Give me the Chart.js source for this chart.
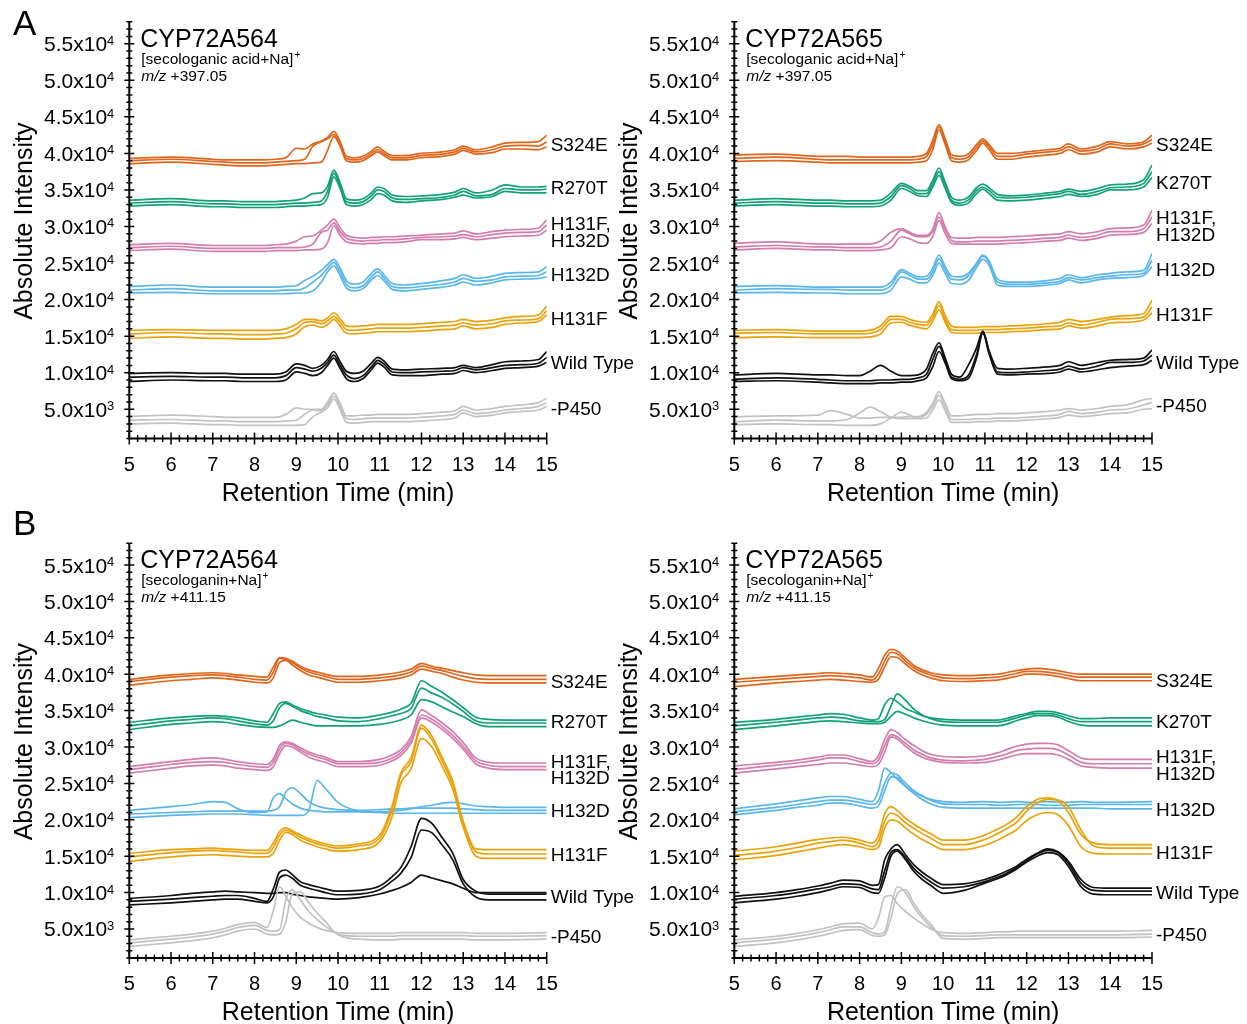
<!DOCTYPE html>
<html lang="en">
<head>
<meta charset="UTF-8">
<title>CYP72A564 / CYP72A565 chromatograms</title>
<script src="https://cdn.jsdelivr.net/npm/chart.js"></script>
<style>
  body { margin: 0; background: #fff; width: 1247px; height: 1024px; overflow: hidden; position: relative; }
  canvas { position: absolute; }
</style>
</head>
<body>
<canvas id="cA1" width="645" height="512" style="left:0;top:0"></canvas>
<canvas id="cA2" width="642" height="512" style="left:605px;top:0"></canvas>
<canvas id="cB1" width="645" height="524" style="left:0;top:500px"></canvas>
<canvas id="cB2" width="642" height="524" style="left:605px;top:500px"></canvas>
<script>
// retention time grids (min)
const timeA = [5, 6, 7, 7.3, 7.7, 8, 8.25, 8.5, 8.75, 9.0, 9.2, 9.4, 9.6, 9.75, 9.9, 10.05, 10.2, 10.4, 10.6, 10.8, 10.95, 11.1, 11.3, 11.6, 12, 12.5, 12.8, 13.0, 13.3, 13.7, 14.0, 14.4, 14.8, 15];
const timeB = [5, 6, 6.5, 7, 7.3, 7.6, 8, 8.3, 8.45, 8.6, 8.75, 8.9, 9.1, 9.3, 9.5, 9.7, 10, 10.5, 11, 11.3, 11.5, 11.75, 12, 12.25, 12.5, 12.75, 13, 13.3, 13.6, 14, 15];

// intensities in units of 10^3, three replicates per construct
// A, CYP72A564, secologanic acid
const a564_S324E = [
  [39.3, 39.5, 39.2, 39.1, 39.1, 39.1, 39.1, 39.2, 39.4, 40.7, 40.6, 41.3, 41.7, 42.2, 43.0, 41.6, 39.6, 39.4, 39.6, 40.3, 40.9, 40.3, 39.7, 39.7, 40.0, 40.2, 40.5, 41.0, 40.5, 40.9, 41.4, 41.5, 41.6, 42.5],
  [39.0, 39.2, 38.9, 38.8, 38.7, 38.7, 38.7, 38.8, 38.9, 39.0, 39.2, 41.0, 41.6, 42.0, 42.6, 41.2, 39.3, 39.1, 39.3, 40.0, 40.5, 40.0, 39.4, 39.4, 39.7, 39.9, 40.2, 40.7, 40.2, 40.5, 41.0, 41.1, 41.0, 41.6],
  [38.6, 38.8, 38.5, 38.4, 38.3, 38.3, 38.3, 38.4, 38.5, 38.6, 38.6, 38.7, 38.8, 40.4, 42.3, 41.0, 39.0, 38.8, 39.0, 39.7, 40.2, 39.7, 39.1, 39.1, 39.4, 39.6, 39.9, 40.4, 39.9, 40.1, 40.6, 40.6, 40.5, 40.9]];
const a564_R270T = [
  [33.6, 33.8, 33.5, 33.5, 33.4, 33.4, 33.4, 33.4, 33.5, 33.6, 33.9, 34.5, 34.6, 35.5, 37.7, 36.0, 33.8, 33.6, 33.8, 34.6, 35.4, 35.2, 34.3, 34.1, 34.2, 34.4, 34.7, 35.2, 34.6, 35.0, 35.7, 35.4, 35.4, 35.5],
  [33.2, 33.4, 33.1, 33.1, 33.0, 33.0, 33.0, 33.0, 33.1, 33.2, 33.2, 33.3, 33.5, 34.8, 37.3, 35.6, 33.4, 33.2, 33.4, 34.2, 35.0, 34.8, 33.9, 33.7, 33.8, 34.0, 34.3, 34.8, 34.2, 34.4, 35.2, 35.0, 35.0, 35.1],
  [32.8, 33.0, 32.7, 32.7, 32.6, 32.6, 32.6, 32.6, 32.7, 32.8, 32.8, 32.9, 33.0, 34.0, 36.8, 35.2, 33.0, 32.8, 33.0, 33.7, 34.5, 34.3, 33.5, 33.3, 33.5, 33.7, 34.0, 34.3, 33.9, 34.1, 34.8, 34.6, 34.6, 34.6]];
const a564_H131F_H132D = [
  [27.5, 27.7, 27.4, 27.4, 27.4, 27.4, 27.4, 27.5, 27.6, 28.0, 28.6, 28.7, 29.5, 30.2, 31.0, 29.8, 28.8, 28.5, 28.4, 28.5, 28.5, 28.6, 28.6, 28.7, 28.8, 29.0, 29.1, 29.4, 29.0, 29.3, 29.5, 29.6, 29.8, 30.9],
  [27.1, 27.3, 27.0, 27.0, 27.0, 27.0, 27.0, 27.1, 27.1, 27.1, 27.2, 27.6, 29.2, 29.5, 30.5, 29.3, 28.4, 28.1, 28.0, 28.1, 28.1, 28.2, 28.2, 28.3, 28.5, 28.6, 28.7, 28.9, 28.6, 28.9, 29.1, 29.2, 29.3, 30.2],
  [26.7, 26.9, 26.6, 26.6, 26.6, 26.6, 26.6, 26.7, 26.7, 26.7, 26.8, 26.8, 26.9, 27.8, 30.1, 28.8, 27.9, 27.7, 27.6, 27.7, 27.7, 27.8, 27.8, 27.9, 28.2, 28.2, 28.3, 28.5, 28.2, 28.4, 28.6, 28.7, 28.8, 29.5]];
const a564_H132D = [
  [21.8, 22.0, 21.7, 21.7, 21.7, 21.7, 21.7, 21.7, 21.8, 21.9, 22.6, 23.2, 24.0, 24.8, 25.5, 24.3, 22.6, 22.1, 22.4, 23.6, 24.2, 23.4, 22.2, 22.0, 22.2, 22.6, 22.9, 23.4, 22.9, 23.2, 23.6, 23.7, 23.8, 24.5],
  [21.3, 21.5, 21.2, 21.2, 21.2, 21.2, 21.2, 21.2, 21.3, 21.3, 21.6, 22.4, 23.3, 24.3, 25.1, 23.8, 22.1, 21.6, 21.9, 23.1, 23.8, 23.0, 21.8, 21.6, 21.8, 22.1, 22.4, 22.9, 22.5, 22.7, 23.1, 23.2, 23.3, 23.8],
  [20.9, 21.0, 20.8, 20.8, 20.8, 20.8, 20.8, 20.8, 20.8, 20.9, 20.9, 21.2, 22.4, 23.8, 24.6, 23.3, 21.6, 21.2, 21.5, 22.7, 23.3, 22.6, 21.4, 21.2, 21.4, 21.7, 22.0, 22.4, 22.0, 22.3, 22.7, 22.8, 22.9, 23.1]];
const a564_H131F = [
  [15.8, 15.9, 15.8, 15.8, 15.8, 15.8, 15.8, 15.8, 16.0, 16.6, 17.3, 17.3, 17.1, 17.5, 18.2, 17.4, 16.4, 16.3, 16.4, 16.5, 16.6, 16.6, 16.6, 16.6, 16.7, 16.9, 17.0, 17.3, 17.0, 17.2, 17.5, 17.7, 17.9, 19.1],
  [15.3, 15.5, 15.3, 15.3, 15.2, 15.2, 15.2, 15.3, 15.4, 16.0, 16.9, 17.0, 16.7, 17.1, 17.7, 16.9, 15.9, 15.8, 15.9, 16.0, 16.1, 16.1, 16.1, 16.1, 16.2, 16.4, 16.5, 16.8, 16.5, 16.7, 17.1, 17.2, 17.4, 18.5],
  [14.7, 14.9, 14.7, 14.7, 14.6, 14.6, 14.6, 14.7, 14.8, 15.3, 16.3, 16.5, 16.2, 16.6, 17.3, 16.4, 15.4, 15.3, 15.4, 15.5, 15.6, 15.6, 15.6, 15.6, 15.7, 15.9, 16.0, 16.4, 16.0, 16.2, 16.6, 16.8, 17.0, 17.9]];
const a564_WT = [
  [9.9, 10.0, 9.9, 9.9, 9.8, 9.8, 9.8, 9.8, 10.1, 11.2, 11.0, 10.6, 11.0, 11.8, 12.9, 11.5, 10.2, 9.9, 10.2, 11.3, 12.1, 11.6, 10.5, 10.4, 10.5, 10.6, 10.7, 11.0, 10.7, 11.1, 11.5, 11.6, 11.8, 12.9],
  [9.4, 9.5, 9.4, 9.4, 9.3, 9.3, 9.3, 9.3, 9.6, 10.7, 10.5, 10.2, 10.6, 11.4, 12.4, 11.0, 9.7, 9.2, 9.6, 10.8, 11.7, 11.2, 10.1, 10.0, 10.1, 10.2, 10.3, 10.7, 10.4, 10.7, 11.0, 11.1, 11.3, 12.1],
  [8.8, 9.0, 8.9, 8.9, 8.8, 8.8, 8.8, 8.8, 9.0, 10.1, 9.9, 9.6, 10.0, 11.0, 12.0, 10.6, 9.2, 8.8, 9.2, 10.4, 11.3, 10.8, 9.7, 9.6, 9.6, 9.8, 9.9, 10.3, 10.0, 10.3, 10.6, 10.7, 10.9, 11.4]];
const a564_noP450 = [
  [4.0, 4.2, 4.0, 3.9, 3.9, 3.9, 3.9, 3.9, 4.3, 5.2, 5.0, 5.0, 5.0, 6.0, 7.2, 5.8, 4.1, 4.1, 4.2, 4.2, 4.3, 4.3, 4.3, 4.3, 4.4, 4.6, 4.8, 5.4, 4.9, 5.1, 5.4, 5.6, 5.9, 6.5],
  [3.5, 3.6, 3.4, 3.4, 3.3, 3.3, 3.3, 3.3, 3.4, 3.5, 4.3, 4.9, 4.8, 5.6, 6.8, 5.4, 3.7, 3.6, 3.7, 3.8, 3.8, 3.8, 3.8, 3.8, 3.9, 4.1, 4.3, 4.9, 4.4, 4.6, 4.9, 5.1, 5.4, 5.9],
  [3.0, 3.1, 2.9, 2.9, 2.8, 2.8, 2.8, 2.8, 2.8, 2.8, 2.9, 4.0, 4.6, 5.2, 6.4, 5.0, 3.2, 3.1, 3.2, 3.3, 3.3, 3.3, 3.3, 3.3, 3.4, 3.6, 3.8, 4.5, 4.0, 4.2, 4.5, 4.7, 4.9, 5.4]];

// A, CYP72A565, secologanic acid
const a565_S324E = [
  [39.8, 39.9, 39.6, 39.6, 39.6, 39.5, 39.5, 39.5, 39.5, 39.5, 39.5, 39.6, 40.0, 41.8, 43.9, 42.0, 39.8, 39.6, 39.9, 41.2, 42.0, 41.2, 40.0, 40.0, 40.2, 40.5, 40.7, 41.3, 40.6, 41.0, 41.6, 41.3, 41.6, 42.5],
  [39.3, 39.5, 39.2, 39.1, 39.1, 39.1, 39.1, 39.1, 39.1, 39.1, 39.1, 39.2, 39.6, 41.2, 43.6, 41.6, 39.4, 39.2, 39.5, 40.8, 41.7, 40.9, 39.6, 39.6, 39.9, 40.2, 40.4, 40.9, 40.3, 40.6, 41.3, 41.0, 41.3, 41.9],
  [38.9, 39.0, 38.8, 38.7, 38.7, 38.7, 38.7, 38.7, 38.7, 38.7, 38.7, 38.8, 39.0, 40.5, 43.2, 41.2, 39.0, 38.8, 39.1, 40.4, 41.4, 40.5, 39.2, 39.2, 39.5, 39.8, 40.0, 40.5, 39.9, 40.2, 40.9, 40.6, 40.9, 41.4]];
const a565_K270T = [
  [33.6, 33.8, 33.6, 33.6, 33.5, 33.5, 33.5, 33.6, 34.6, 35.9, 35.5, 34.9, 34.9, 36.3, 38.0, 36.0, 34.0, 33.6, 34.0, 35.3, 35.8, 35.3, 34.4, 34.2, 34.3, 34.6, 34.8, 35.1, 34.8, 35.2, 35.7, 35.8, 36.4, 38.4],
  [33.2, 33.4, 33.2, 33.2, 33.1, 33.1, 33.1, 33.2, 34.1, 35.6, 35.2, 34.5, 34.5, 35.8, 37.5, 35.6, 33.6, 33.2, 33.6, 34.9, 35.4, 34.9, 34.0, 33.9, 34.0, 34.3, 34.5, 34.8, 34.4, 34.8, 35.3, 35.4, 35.9, 37.5],
  [32.8, 33.0, 32.8, 32.8, 32.7, 32.7, 32.7, 32.8, 33.6, 35.2, 34.8, 34.2, 34.1, 35.4, 37.0, 35.2, 33.3, 32.9, 33.2, 34.5, 35.1, 34.5, 33.6, 33.5, 33.6, 33.9, 34.1, 34.4, 34.1, 34.4, 35.0, 35.0, 35.4, 36.7]];
const a565_H131F_H132D = [
  [27.7, 27.9, 27.6, 27.6, 27.6, 27.6, 27.6, 28.0, 29.2, 29.7, 29.2, 28.8, 28.8, 29.6, 31.9, 29.9, 28.5, 28.4, 28.4, 28.5, 28.5, 28.5, 28.5, 28.6, 28.7, 28.9, 29.0, 29.3, 29.0, 29.3, 29.7, 29.8, 30.2, 32.2],
  [27.2, 27.4, 27.2, 27.2, 27.1, 27.1, 27.1, 27.2, 28.0, 29.5, 29.0, 28.6, 28.6, 29.3, 31.3, 29.5, 28.1, 27.9, 27.9, 28.0, 28.0, 28.0, 28.0, 28.1, 28.2, 28.4, 28.5, 28.8, 28.5, 28.8, 29.3, 29.3, 29.7, 31.3],
  [26.8, 27.0, 26.8, 26.8, 26.7, 26.7, 26.7, 26.8, 27.1, 28.6, 28.3, 27.8, 27.7, 28.6, 30.8, 29.0, 27.7, 27.6, 27.6, 27.6, 27.6, 27.6, 27.6, 27.7, 27.8, 28.0, 28.1, 28.4, 28.1, 28.4, 28.8, 28.9, 29.2, 30.4]];
const a565_H132D = [
  [21.8, 21.9, 21.7, 21.7, 21.7, 21.7, 21.7, 21.7, 22.4, 24.1, 23.6, 23.1, 23.2, 24.3, 26.1, 24.5, 23.2, 23.1, 23.6, 25.0, 26.1, 25.3, 22.8, 22.4, 22.4, 22.6, 22.9, 23.4, 23.0, 23.4, 23.6, 23.8, 24.0, 26.3],
  [21.3, 21.5, 21.4, 21.4, 21.3, 21.3, 21.3, 21.3, 21.9, 23.8, 23.3, 22.8, 22.8, 23.8, 25.6, 24.1, 22.8, 22.7, 23.2, 24.8, 25.9, 25.1, 22.4, 22.1, 22.1, 22.3, 22.5, 23.0, 22.7, 23.0, 23.2, 23.4, 23.6, 25.4],
  [20.9, 21.0, 20.9, 20.9, 20.8, 20.8, 20.8, 20.8, 21.3, 23.1, 22.8, 22.3, 22.3, 23.3, 25.0, 23.6, 22.2, 22.1, 22.6, 24.4, 25.5, 24.7, 22.0, 21.8, 21.8, 22.0, 22.2, 22.7, 22.3, 22.7, 22.9, 23.0, 23.3, 24.5]];
const a565_H131F = [
  [15.8, 15.9, 15.7, 15.7, 15.7, 15.7, 15.8, 16.4, 17.7, 17.7, 17.3, 17.0, 16.9, 18.0, 19.7, 17.8, 16.4, 16.2, 16.2, 16.2, 16.3, 16.3, 16.3, 16.4, 16.5, 16.7, 16.9, 17.3, 17.0, 17.3, 17.6, 17.8, 18.1, 19.9],
  [15.4, 15.5, 15.3, 15.3, 15.3, 15.3, 15.4, 15.9, 17.3, 17.3, 16.9, 16.6, 16.5, 17.5, 19.2, 17.3, 15.9, 15.8, 15.8, 15.8, 15.9, 15.9, 15.9, 16.0, 16.1, 16.3, 16.4, 16.8, 16.5, 16.9, 17.3, 17.4, 17.6, 19.0],
  [14.8, 14.9, 14.8, 14.8, 14.8, 14.8, 14.9, 15.3, 16.8, 16.9, 16.5, 16.2, 16.0, 17.0, 18.6, 16.9, 15.5, 15.4, 15.4, 15.4, 15.5, 15.5, 15.5, 15.6, 15.7, 15.9, 16.0, 16.4, 16.1, 16.4, 16.8, 16.9, 17.2, 18.2]];
const a565_WT = [
  [9.7, 9.9, 9.7, 9.7, 9.6, 9.6, 10.2, 11.0, 10.2, 9.6, 9.6, 9.7, 10.5, 12.6, 14.1, 12.0, 9.8, 9.4, 11.0, 13.4, 15.7, 13.0, 10.6, 10.5, 10.6, 10.8, 11.0, 11.5, 11.0, 11.4, 11.7, 11.8, 12.0, 13.1],
  [9.1, 9.3, 9.1, 9.0, 8.9, 8.9, 8.9, 9.0, 9.0, 9.1, 9.1, 9.3, 9.8, 11.8, 13.6, 11.6, 9.4, 9.1, 9.6, 12.5, 15.6, 12.8, 10.1, 10.0, 10.1, 10.3, 10.5, 10.9, 10.5, 10.9, 11.4, 11.4, 11.6, 12.4],
  [8.8, 8.9, 8.7, 8.6, 8.5, 8.5, 8.5, 8.6, 8.6, 8.7, 8.7, 8.9, 9.3, 10.8, 12.9, 11.3, 9.2, 8.9, 9.2, 12.0, 15.4, 12.6, 9.8, 9.7, 9.8, 9.9, 10.1, 10.5, 10.1, 10.4, 10.7, 10.9, 11.1, 11.7]];
const a565_noP450 = [
  [4.0, 4.1, 4.2, 4.8, 4.3, 3.8, 3.8, 3.9, 3.9, 3.9, 4.0, 4.0, 4.6, 5.8, 7.4, 5.8, 4.1, 4.1, 4.2, 4.3, 4.3, 4.3, 4.4, 4.4, 4.5, 4.7, 4.9, 5.1, 4.9, 5.1, 5.4, 5.6, 6.3, 6.5],
  [3.3, 3.5, 3.4, 3.4, 3.6, 4.5, 5.3, 4.7, 3.9, 3.7, 3.7, 3.8, 4.3, 5.4, 6.9, 5.3, 3.6, 3.6, 3.6, 3.7, 3.7, 3.7, 3.8, 3.8, 3.9, 4.1, 4.3, 4.7, 4.4, 4.6, 4.9, 5.0, 5.6, 5.9],
  [2.9, 3.0, 2.9, 2.9, 2.8, 2.8, 2.8, 3.0, 3.8, 4.6, 4.2, 3.7, 3.8, 4.9, 6.3, 4.8, 3.2, 3.2, 3.2, 3.3, 3.3, 3.3, 3.4, 3.4, 3.5, 3.7, 3.9, 4.2, 4.0, 4.2, 4.4, 4.5, 5.0, 5.1]];

// B, CYP72A564, secologanin
const b564_S324E = [
  [39.3, 39.9, 40.1, 40.2, 40.1, 39.9, 39.7, 39.6, 41.0, 42.3, 42.2, 41.8, 41.1, 40.6, 40.3, 40.0, 39.7, 39.7, 39.9, 40.1, 40.3, 40.7, 41.5, 41.1, 40.8, 40.5, 40.2, 39.9, 39.8, 39.8, 39.8],
  [39.0, 39.6, 39.8, 39.9, 39.8, 39.6, 39.3, 39.2, 40.3, 42.2, 42.0, 41.6, 40.9, 40.3, 40.0, 39.7, 39.3, 39.3, 39.5, 39.7, 39.9, 40.3, 41.1, 40.8, 40.5, 40.1, 39.7, 39.4, 39.3, 39.3, 39.3],
  [38.5, 39.1, 39.3, 39.5, 39.4, 39.2, 38.9, 38.8, 39.5, 41.6, 41.9, 41.3, 40.5, 39.9, 39.6, 39.3, 38.9, 38.9, 39.1, 39.3, 39.5, 39.9, 40.7, 40.4, 40.1, 39.6, 39.2, 38.9, 38.8, 38.8, 38.8]];
const b564_R270T = [
  [33.4, 34.0, 34.2, 34.3, 34.2, 34.0, 33.6, 33.4, 34.6, 36.0, 36.2, 35.8, 35.3, 34.9, 34.6, 34.4, 34.1, 34.0, 34.4, 34.8, 35.2, 36.0, 39.1, 38.3, 37.5, 36.5, 35.4, 34.1, 33.8, 33.7, 33.7],
  [32.9, 33.6, 33.8, 34.0, 33.9, 33.6, 33.2, 33.0, 33.6, 35.4, 36.0, 35.6, 35.0, 34.6, 34.2, 34.0, 33.6, 33.5, 33.9, 34.3, 34.6, 35.3, 38.1, 37.4, 36.8, 35.9, 34.9, 33.6, 33.3, 33.3, 33.3],
  [32.4, 33.1, 33.3, 33.5, 33.4, 33.1, 32.8, 32.7, 32.7, 32.9, 33.3, 33.7, 33.4, 33.1, 32.9, 32.9, 32.9, 32.9, 33.1, 33.4, 33.7, 34.4, 36.5, 36.2, 35.5, 34.8, 34.2, 33.2, 32.8, 32.8, 32.8]];
const b564_H131F_H132D = [
  [27.3, 28.0, 28.3, 28.5, 28.3, 28.0, 27.7, 27.6, 28.4, 30.2, 30.7, 30.5, 29.9, 29.3, 28.9, 28.6, 28.0, 28.0, 28.3, 28.9, 29.6, 31.4, 35.1, 34.3, 33.3, 32.1, 30.6, 28.5, 27.9, 27.8, 27.8],
  [26.9, 27.6, 27.9, 28.0, 27.9, 27.6, 27.3, 27.2, 27.9, 29.7, 30.5, 30.3, 29.6, 29.0, 28.6, 28.3, 27.7, 27.7, 27.9, 28.5, 29.2, 30.9, 34.4, 33.8, 32.8, 31.6, 30.1, 28.1, 27.5, 27.3, 27.3],
  [26.4, 27.1, 27.4, 27.5, 27.4, 27.1, 26.9, 26.8, 27.3, 29.1, 30.2, 30.0, 29.3, 28.6, 28.2, 27.9, 27.3, 27.3, 27.5, 28.1, 28.8, 30.5, 34.0, 33.4, 32.4, 31.2, 29.7, 27.7, 27.1, 26.9, 26.9]];
const b564_H132D = [
  [21.3, 21.8, 22.1, 22.5, 22.4, 21.5, 21.0, 21.1, 23.0, 23.6, 22.9, 22.2, 21.6, 21.3, 21.2, 21.1, 21.1, 21.1, 21.1, 21.2, 21.3, 21.5, 21.8, 22.0, 22.3, 22.4, 22.2, 21.9, 21.8, 21.7, 21.7],
  [20.8, 21.0, 21.1, 21.2, 21.2, 21.2, 21.2, 21.2, 21.3, 21.8, 23.8, 24.4, 23.6, 22.5, 21.9, 21.6, 21.4, 21.3, 21.4, 21.5, 21.5, 21.6, 21.6, 21.6, 21.6, 21.6, 21.5, 21.4, 21.3, 21.3, 21.3],
  [20.3, 20.6, 20.7, 20.8, 20.8, 20.8, 20.7, 20.6, 20.6, 20.6, 20.6, 20.6, 20.6, 21.3, 25.4, 24.3, 22.4, 21.2, 21.0, 20.9, 20.9, 20.9, 20.9, 20.9, 20.9, 20.9, 20.9, 20.9, 20.9, 20.9, 20.9]];
const b564_H131F = [
  [15.4, 15.9, 16.0, 16.1, 16.0, 15.9, 15.8, 15.8, 16.8, 18.4, 18.9, 18.5, 17.9, 17.4, 17.0, 16.7, 16.4, 16.7, 17.9, 22.0, 26.4, 28.5, 33.0, 31.5, 28.5, 25.3, 19.8, 16.0, 15.9, 15.9, 15.9],
  [14.9, 15.5, 15.7, 15.8, 15.7, 15.6, 15.4, 15.4, 16.2, 17.9, 18.6, 18.3, 17.6, 17.1, 16.7, 16.4, 16.1, 16.4, 17.5, 21.5, 26.0, 28.0, 32.6, 31.0, 28.0, 24.8, 19.5, 15.6, 15.3, 15.3, 15.3],
  [14.3, 14.9, 15.1, 15.2, 15.1, 15.0, 14.9, 14.9, 15.4, 17.2, 18.3, 18.0, 17.2, 16.7, 16.3, 16.0, 15.7, 15.9, 17.0, 20.5, 25.0, 27.0, 31.2, 30.0, 27.3, 24.2, 19.0, 15.0, 14.7, 14.7, 14.7]];
const b564_WT = [
  [9.2, 9.6, 9.9, 10.1, 10.2, 10.1, 10.0, 9.9, 9.9, 10.0, 10.0, 9.8, 9.6, 9.4, 9.3, 9.2, 9.1, 9.3, 9.8, 10.3, 10.7, 11.4, 12.4, 12.0, 11.6, 11.2, 10.6, 10.0, 10.0, 10.0, 10.0],
  [8.8, 9.1, 9.3, 9.5, 9.6, 9.6, 9.2, 8.8, 10.5, 12.8, 13.1, 12.5, 11.5, 11.1, 10.8, 10.5, 10.2, 10.3, 10.9, 12.2, 13.4, 16.3, 20.2, 19.5, 17.5, 15.4, 11.8, 10.2, 9.8, 9.8, 9.8],
  [8.3, 8.6, 8.8, 9.0, 9.1, 9.1, 8.8, 8.6, 9.4, 12.0, 12.4, 12.0, 11.0, 10.6, 10.3, 10.0, 9.7, 9.8, 10.4, 11.6, 12.6, 14.8, 18.6, 18.2, 16.5, 14.5, 11.2, 9.4, 9.0, 9.0, 9.0]];
const b564_noP450 = [
  [3.5, 4.0, 4.3, 4.7, 5.1, 5.6, 5.9, 5.2, 7.5, 10.8, 9.5, 8.0, 6.6, 5.8, 5.2, 4.8, 4.5, 4.4, 4.4, 4.4, 4.5, 4.5, 4.5, 4.5, 4.5, 4.5, 4.5, 4.4, 4.4, 4.4, 4.5],
  [3.1, 3.6, 3.9, 4.3, 4.7, 5.2, 5.5, 4.8, 4.7, 4.9, 9.0, 10.4, 9.0, 7.4, 6.3, 5.4, 4.3, 4.0, 4.0, 4.0, 4.1, 4.1, 4.1, 4.1, 4.1, 4.1, 4.1, 4.0, 4.0, 4.0, 4.1],
  [2.6, 3.1, 3.4, 3.8, 4.2, 4.7, 5.0, 4.3, 4.2, 4.3, 6.0, 9.8, 10.1, 8.6, 7.2, 6.0, 4.2, 3.6, 3.5, 3.5, 3.6, 3.6, 3.6, 3.6, 3.6, 3.6, 3.6, 3.5, 3.5, 3.5, 3.6]];

// B, CYP72A565, secologanin
const b565_S324E = [
  [39.3, 39.7, 39.9, 40.1, 40.2, 40.1, 39.9, 39.6, 40.8, 42.6, 43.4, 43.2, 42.2, 41.2, 40.6, 40.2, 39.9, 39.8, 39.9, 40.0, 40.2, 40.5, 40.7, 40.8, 40.7, 40.5, 40.2, 40.0, 40.0, 40.0, 40.0],
  [38.9, 39.3, 39.5, 39.7, 39.8, 39.7, 39.5, 39.2, 40.0, 41.8, 43.0, 42.8, 41.8, 40.9, 40.3, 39.9, 39.5, 39.4, 39.5, 39.6, 39.8, 40.1, 40.4, 40.4, 40.3, 40.1, 39.8, 39.6, 39.6, 39.6, 39.6],
  [38.3, 38.8, 39.0, 39.2, 39.3, 39.2, 39.0, 38.9, 39.3, 41.0, 42.4, 42.3, 41.4, 40.5, 39.9, 39.5, 39.1, 39.0, 39.1, 39.2, 39.4, 39.7, 40.0, 40.0, 39.9, 39.7, 39.4, 39.1, 39.1, 39.1, 39.1]];
const b565_K270T = [
  [33.4, 33.8, 34.1, 34.4, 34.6, 34.5, 34.0, 33.7, 33.9, 35.8, 36.7, 36.2, 35.3, 34.8, 34.3, 34.0, 33.8, 33.7, 33.7, 33.7, 33.9, 34.3, 34.6, 34.9, 34.9, 34.7, 34.3, 33.9, 33.9, 34.0, 34.0],
  [32.9, 33.4, 33.7, 34.0, 34.1, 34.0, 33.6, 33.5, 33.5, 33.8, 35.6, 37.3, 36.4, 35.2, 34.4, 33.9, 33.5, 33.4, 33.4, 33.4, 33.6, 34.0, 34.4, 34.6, 34.6, 34.4, 33.9, 33.5, 33.5, 33.5, 33.5],
  [32.4, 32.9, 33.2, 33.5, 33.6, 33.5, 33.3, 33.2, 33.2, 33.4, 34.2, 34.9, 34.5, 34.0, 33.6, 33.3, 33.0, 32.9, 32.9, 32.9, 33.1, 33.6, 34.0, 34.3, 34.3, 34.1, 33.5, 33.0, 32.9, 32.9, 32.9]];
const b565_H131F_H132D = [
  [27.4, 27.9, 28.2, 28.6, 28.9, 28.9, 28.4, 28.0, 28.8, 31.0, 32.4, 32.0, 31.0, 30.2, 29.5, 29.0, 28.7, 28.6, 28.8, 29.2, 29.6, 30.1, 30.4, 30.5, 30.5, 30.3, 29.5, 28.5, 28.3, 28.3, 28.3],
  [26.9, 27.5, 27.8, 28.2, 28.5, 28.5, 28.0, 27.7, 28.2, 30.2, 31.7, 31.4, 30.5, 29.6, 29.0, 28.5, 28.2, 28.1, 28.3, 28.7, 29.0, 29.5, 29.7, 29.8, 29.8, 29.6, 28.9, 27.9, 27.7, 27.7, 27.7],
  [26.4, 27.0, 27.3, 27.6, 27.8, 27.8, 27.5, 27.3, 27.6, 29.3, 31.4, 31.1, 30.1, 29.2, 28.6, 28.2, 27.9, 27.8, 27.9, 28.2, 28.5, 28.9, 29.1, 29.1, 29.1, 28.9, 28.3, 27.4, 27.2, 27.1, 27.1]];
const b565_H132D = [
  [21.5, 22.2, 22.6, 23.0, 23.2, 23.2, 22.8, 22.5, 24.0, 27.1, 26.5, 25.6, 24.6, 23.8, 23.2, 22.8, 22.5, 22.4, 22.5, 22.4, 22.4, 22.5, 22.4, 22.4, 22.5, 22.4, 22.4, 22.5, 22.4, 22.4, 22.5],
  [21.1, 21.7, 22.1, 22.5, 22.7, 22.7, 22.4, 22.1, 22.6, 25.0, 26.4, 26.2, 25.0, 24.0, 23.3, 22.7, 22.2, 22.1, 22.1, 22.0, 22.0, 22.1, 22.1, 22.1, 22.0, 22.0, 22.0, 22.1, 22.1, 22.1, 22.1],
  [20.7, 21.3, 21.7, 22.0, 22.3, 22.3, 21.9, 21.6, 21.9, 24.0, 25.9, 25.8, 24.6, 23.6, 22.8, 22.2, 21.7, 21.6, 21.6, 21.6, 21.6, 21.6, 21.6, 21.6, 21.6, 21.6, 21.6, 21.6, 21.6, 21.5, 21.5]];
const b565_H131F = [
  [15.7, 16.3, 16.8, 17.3, 17.5, 17.6, 17.2, 16.8, 17.8, 20.8, 21.8, 21.3, 20.2, 19.4, 18.7, 18.1, 17.2, 17.2, 17.9, 18.7, 19.3, 20.3, 21.8, 22.8, 23.0, 22.6, 21.0, 18.0, 16.8, 16.6, 16.6],
  [15.1, 15.7, 16.2, 16.8, 17.0, 17.2, 16.8, 16.3, 17.0, 19.8, 20.9, 20.6, 19.6, 18.8, 18.1, 17.5, 16.6, 16.6, 17.3, 18.1, 18.7, 19.6, 21.2, 22.3, 22.8, 22.7, 21.8, 18.6, 16.4, 16.1, 16.1],
  [14.5, 15.1, 15.6, 16.1, 16.4, 16.6, 16.3, 15.9, 16.2, 18.9, 20.0, 19.8, 18.9, 18.0, 17.3, 16.7, 15.9, 15.9, 16.5, 17.2, 17.8, 18.6, 19.9, 20.7, 21.0, 20.7, 19.2, 16.3, 15.4, 15.3, 15.3]];
const b565_WT = [
  [9.5, 10.0, 10.4, 10.9, 11.3, 11.7, 11.6, 11.0, 11.1, 14.5, 16.0, 16.6, 15.2, 13.8, 12.8, 12.0, 11.1, 11.2, 11.8, 12.4, 12.9, 13.6, 14.6, 15.4, 16.0, 15.6, 14.3, 11.8, 10.7, 10.6, 10.6],
  [9.1, 9.6, 10.0, 10.5, 10.8, 11.2, 11.1, 10.5, 10.4, 13.0, 15.5, 15.9, 14.8, 13.3, 12.3, 11.5, 10.6, 10.8, 11.5, 12.1, 12.6, 13.4, 14.4, 15.3, 15.8, 15.5, 14.0, 11.3, 10.3, 10.2, 10.2],
  [8.6, 9.1, 9.5, 10.0, 10.4, 10.8, 10.7, 10.0, 9.9, 12.0, 15.0, 15.7, 14.5, 12.9, 11.8, 11.0, 9.9, 10.3, 11.3, 11.9, 12.4, 13.2, 14.2, 15.0, 15.5, 15.2, 13.6, 10.8, 9.8, 9.7, 9.7]];
const b565_noP450 = [
  [3.5, 4.0, 4.4, 4.9, 5.3, 5.7, 5.8, 5.0, 6.5, 9.4, 9.6, 8.5, 7.4, 6.5, 5.7, 5.0, 4.5, 4.4, 4.5, 4.6, 4.6, 4.7, 4.7, 4.7, 4.7, 4.7, 4.7, 4.7, 4.7, 4.7, 4.8],
  [3.1, 3.6, 4.0, 4.5, 4.9, 5.3, 5.3, 4.5, 4.3, 4.6, 8.0, 10.8, 10.0, 8.0, 6.5, 5.3, 4.1, 4.0, 4.1, 4.2, 4.2, 4.2, 4.2, 4.2, 4.2, 4.2, 4.2, 4.2, 4.2, 4.2, 4.3],
  [2.6, 3.1, 3.5, 4.0, 4.4, 4.8, 4.9, 4.1, 4.0, 4.2, 6.5, 9.8, 10.4, 8.5, 6.9, 5.7, 3.7, 3.6, 3.7, 3.8, 3.8, 3.8, 3.8, 3.8, 3.8, 3.8, 3.8, 3.8, 3.8, 3.8, 3.9]];

// construct labels and where they sit on the intensity axis (10^3)
const names564 = ['S324E', 'R270T', 'H131F,', 'H132D', 'H132D', 'H131F', 'Wild Type', '-P450'];
const names565 = ['S324E', 'K270T', 'H131F,', 'H132D', 'H132D', 'H131F', 'Wild Type', '-P450'];
const labelPosA564 = [41.1, 35.1, 30.2, 27.9, 23.2, 17.2, 11.2, 4.9];
const labelPosA565 = [41.0, 35.9, 31.0, 28.7, 23.9, 17.8, 11.2, 5.3];
const labelPosB564 = [38.8, 33.3, 27.9, 25.6, 21.1, 15.0, 9.3, 3.8];
const labelPosB565 = [38.9, 33.3, 28.5, 26.2, 21.2, 15.4, 9.8, 4.0];

// axes
const xTickVals = [5, 6, 7, 8, 9, 10, 11, 12, 13, 14, 15];
const yTickVals = [5, 10, 15, 20, 25, 30, 35, 40, 45, 50, 55];
const yTickMant = ['5.0x10', '1.0x10', '1.5x10', '2.0x10', '2.5x10', '3.0x10', '3.5x10', '4.0x10', '4.5x10', '5.0x10', '5.5x10'];
const yTickExp = ['3', '4', '4', '4', '4', '4', '4', '4', '4', '4', '4'];

// orange, green, pink, blue, yellow, black, grey
const colors = ['#DD661C', '#12A077', '#D27DAD', '#5AB6EA', '#E9A20C', '#111111', '#C2C2C2'];
const FONT = '"Liberation Sans", Arial, sans-serif';

const deco = {
  id: 'deco',
  afterDraw(chart, args, o) {
    const ctx = chart.ctx, a = chart.chartArea;
    const xs = chart.scales.x, ys = chart.scales.y;
    ctx.save();
    ctx.strokeStyle = '#000';
    ctx.fillStyle = '#000';

    // axis lines
    ctx.lineWidth = 2;
    ctx.beginPath();
    ctx.moveTo(a.left, a.top);
    ctx.lineTo(a.left, a.bottom);
    ctx.lineTo(a.right, a.bottom);
    ctx.stroke();

    // tick marks, crossing the axes
    ctx.lineWidth = 1.5;
    ctx.beginPath();
    for (let v = ys.min; v <= ys.max; v += 1) {
      const py = ys.getPixelForValue(v);
      const h = yTickVals.includes(v) ? 5 : 3;
      ctx.moveTo(a.left - h, py);
      ctx.lineTo(a.left + h, py);
    }
    for (let i = 0; i <= 50; i++) {
      const px = xs.getPixelForValue(xs.min + i * 0.2);
      const h = i % 5 === 0 ? 6 : 3.5;
      ctx.moveTo(px, a.bottom - h);
      ctx.lineTo(px, a.bottom + h);
    }
    ctx.stroke();

    // y tick labels with superscript exponent
    yTickVals.forEach((v, i) => {
      const py = ys.getPixelForValue(v);
      ctx.font = '13px ' + FONT;
      const ew = ctx.measureText(yTickExp[i]).width;
      const xr = a.left - 15;
      ctx.textAlign = 'left';
      ctx.fillText(yTickExp[i], xr - ew, py + 1);
      ctx.font = '21px ' + FONT;
      ctx.textAlign = 'right';
      ctx.fillText(yTickMant[i], xr - ew, py + 7.5);
    });

    // x tick labels
    ctx.font = '20px ' + FONT;
    ctx.textAlign = 'center';
    xTickVals.forEach(v => ctx.fillText(String(v), xs.getPixelForValue(v), a.bottom + 32));

    // axis titles
    ctx.font = '25px ' + FONT;
    ctx.fillText('Retention Time (min)', (a.left + a.right) / 2, a.bottom + 62);
    ctx.save();
    ctx.translate(a.left - 97, (a.top + a.bottom) / 2 - 9);
    ctx.rotate(-Math.PI / 2);
    ctx.fillText('Absolute Intensity', 0, 0);
    ctx.restore();

    // panel heading
    ctx.textAlign = 'left';
    ctx.font = '25px ' + FONT;
    ctx.fillText(o.title, a.left + 11, a.top + 25);
    ctx.font = '15.5px ' + FONT;
    ctx.fillText(o.sub, a.left + 12, a.top + 42);
    const sw = ctx.measureText(o.sub).width;
    ctx.font = '10px ' + FONT;
    ctx.fillText('+', a.left + 12 + sw + 1, a.top + 36);
    ctx.font = 'italic 15.5px ' + FONT;
    ctx.fillText('m/z', a.left + 12, a.top + 59);
    const mw = ctx.measureText('m/z').width;
    ctx.font = '15.5px ' + FONT;
    ctx.fillText(' ' + o.mz, a.left + 12 + mw, a.top + 59);

    // construct labels
    ctx.font = '19px ' + FONT;
    ctx.textBaseline = 'middle';
    o.names.forEach((n, i) => ctx.fillText(n, a.right + 4, ys.getPixelForValue(o.pos[i])));

    // panel letter
    if (o.letter) {
      ctx.textBaseline = 'alphabetic';
      ctx.font = '35px ' + FONT;
      ctx.fillText(o.letter, 13, o.letterY);
    }
    ctx.restore();
  }
};
Chart.register(deco);

function buildDatasets(time, groups) {
  const ds = [];
  // first dataset is painted last, so list the bottom groups first
  for (let g = groups.length - 1; g >= 0; g--) {
    groups[g].forEach(trace => ds.push({
      data: trace.map((v, i) => ({ x: time[i], y: v })),
      borderColor: colors[g],
      borderWidth: 1.7,
      pointRadius: 0,
      fill: false,
      cubicInterpolationMode: 'monotone'
    }));
  }
  return ds;
}

const padA1 = { left: 129.3, right: 98.3, top: 21.8, bottom: 73.5 };
const padA2 = { left: 129.3, right: 95, top: 21.8, bottom: 73.5 };
const padB1 = { left: 129.3, right: 98.3, top: 43.2, bottom: 65.9 };
const padB2 = { left: 129.3, right: 95, top: 43.2, bottom: 65.9 };

function panel(id, time, groups, pad, opts) {
  new Chart(document.getElementById(id), {
    type: 'line',
    data: { datasets: buildDatasets(time, groups) },
    options: {
      responsive: false,
      animation: false,
      devicePixelRatio: 1,
      events: [],
      layout: { padding: pad },
      plugins: { legend: { display: false }, tooltip: { enabled: false }, deco: opts },
      scales: {
        x: { type: 'linear', min: 5, max: 15, display: false },
        y: { type: 'linear', min: 1, max: 58, display: false }
      }
    }
  });
}

panel('cA1', timeA, [a564_S324E, a564_R270T, a564_H131F_H132D, a564_H132D, a564_H131F, a564_WT, a564_noP450], padA1,
  { title: 'CYP72A564', sub: '[secologanic acid+Na]', mz: '+397.05', names: names564, pos: labelPosA564, letter: 'A', letterY: 35 });
panel('cA2', timeA, [a565_S324E, a565_K270T, a565_H131F_H132D, a565_H132D, a565_H131F, a565_WT, a565_noP450], padA2,
  { title: 'CYP72A565', sub: '[secologanic acid+Na]', mz: '+397.05', names: names565, pos: labelPosA565 });
panel('cB1', timeB, [b564_S324E, b564_R270T, b564_H131F_H132D, b564_H132D, b564_H131F, b564_WT, b564_noP450], padB1,
  { title: 'CYP72A564', sub: '[secologanin+Na]', mz: '+411.15', names: names564, pos: labelPosB564, letter: 'B', letterY: 35 });
panel('cB2', timeB, [b565_S324E, b565_K270T, b565_H131F_H132D, b565_H132D, b565_H131F, b565_WT, b565_noP450], padB2,
  { title: 'CYP72A565', sub: '[secologanin+Na]', mz: '+411.15', names: names565, pos: labelPosB565 });
</script>
</body>
</html>
